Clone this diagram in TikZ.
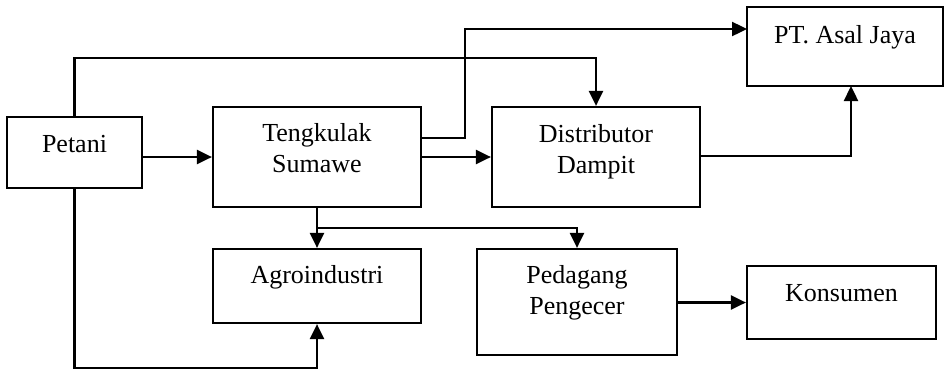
\documentclass[tikz,border=0pt]{standalone}
\usepackage{fontspec}
\setmainfont{Liberation Serif}
\usetikzlibrary{arrows.meta}
\begin{document}
\begin{tikzpicture}[x=1pt,y=-1pt,
  box/.style={draw,line width=2.2pt,inner sep=0pt},
  txt/.style={font=\fontsize{26}{31}\selectfont,align=center,anchor=base,inner sep=0pt},
  arr/.style={line width=2.4pt,-{Triangle[length=15pt,width=14pt]}}]
\useasboundingbox (0,0) rectangle (945,370);
% boxes (centre, width, height)
\node[box,minimum width=135pt,minimum height=71pt] (petani) at (74.5,152.5) {};
\node[box,minimum width=208pt,minimum height=100pt] (teng) at (317,157) {};
\node[box,minimum width=208pt,minimum height=100pt] (dist) at (596,157) {};
\node[box,minimum width=196pt,minimum height=79pt] (pt) at (845,46.5) {};
\node[box,minimum width=208pt,minimum height=74pt] (agro) at (317,286) {};
\node[box,minimum width=200pt,minimum height=106pt] (ped) at (577,302) {};
\node[box,minimum width=189pt,minimum height=73pt] (kons) at (841.5,302.5) {};
% texts (base anchor = baseline of last line)
\node[txt] (petaniT) at (74.5,152) {Petani};
\node[txt] (tengT) at (317,172) {Tengkulak\\Sumawe};
\node[txt] (distT) at (596,173) {Distributor\\Dampit};
\node[txt] (ptT) at (845,43) {PT. Asal Jaya};
\node[txt] (agroT) at (317,283) {Agroindustri};
\node[txt] (pedT) at (577,314) {Pedagang\\Pengecer};
\node[txt] (konsT) at (841.5,301) {Konsumen};
% helper coordinates
\coordinate (topy) at (0,58);
\coordinate (boty) at (0,368);
\coordinate (tengout) at (421,138);
\coordinate (ptcol) at (465,29);
\coordinate (ptin) at (747,29);
\coordinate (distout) at (700,156);
\coordinate (ptup) at (851,86);
\coordinate (branch) at (317,228);
% connectors
\draw[arr] (petani.east |- teng.west) -- (teng.west);
\draw[arr] (petani.north) -- (petani.north |- topy) -| (dist.north);
\draw[arr] (petani.south) -- (petani.south |- boty) -| (agro.south);
\draw[arr] (tengout) -| (ptcol) -- (ptin);
\draw[arr] (teng.east) -- (dist.west);
\draw[arr] (distout) -| (ptup);
\draw[arr] (teng.south) -- (agro.north);
\draw[arr] (branch) -| (ped.north);
\draw[arr] (ped.east |- kons.west) -- (kons.west);
\end{tikzpicture}
\end{document}
